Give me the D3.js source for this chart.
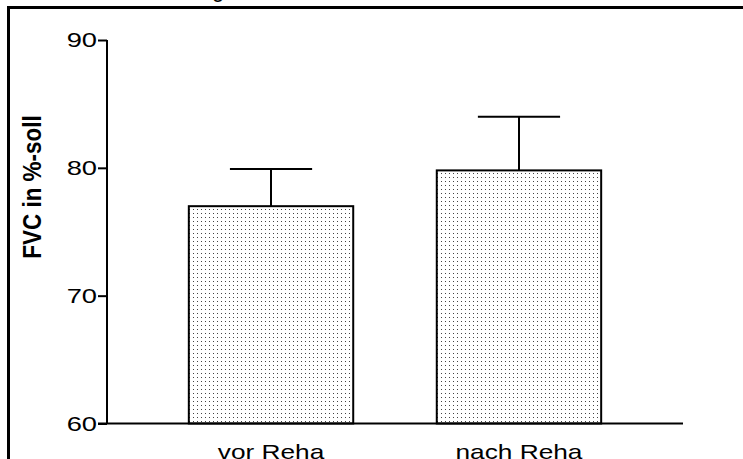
<!DOCTYPE html>
<html>
<head>
<meta charset="utf-8">
<script src="https://cdn.jsdelivr.net/npm/d3@7"></script>
<style>
  body { margin: 0; background: #fff; }
  svg { display: block; font-family: Arial, "Liberation Sans", sans-serif; }
</style>
</head>
<body>
<svg width="743" height="459"></svg>
<script>
var categories = ["vor Reha", "nach Reha"];
var means = [77.0, 79.8];
var errTop = [79.9, 84.0];
var yTicks = [60, 70, 80, 90];

var svg = d3.select("svg");

// dotted fill like the original print
var defs = svg.append("defs");
var pat = defs.append("pattern")
    .attr("id", "dots")
    .attr("patternUnits", "userSpaceOnUse")
    .attr("width", 4).attr("height", 4);
pat.append("rect").attr("width", 4).attr("height", 4).attr("fill", "#fff");
pat.append("rect").attr("x", 1).attr("y", 1).attr("width", 1).attr("height", 1).attr("fill", "#444");

// frame around the figure (cut off right / bottom)
svg.append("path")
    .attr("d", "M8.5,470 V7.5 H760")
    .attr("fill", "none")
    .attr("stroke", "#000")
    .attr("stroke-width", 3);

// caption above, mostly outside the picture
var caption = [{t: "g", x: 212}, {t: ",", x: 399}, {t: ",", x: 544}];
svg.append("g").selectAll("text")
  .data(caption)
  .enter().append("text")
    .attr("x", function(d) { return d.x; })
    .attr("y", -3)
    .attr("font-family", "Liberation Sans, Arial, sans-serif")
    .attr("font-size", 22)
    .text(function(d) { return d.t; });

var plotL = 107, plotR = 683, plotT = 40, plotB = 423.5;

var x = d3.scaleBand().domain(categories).range([plotL, plotR]).paddingInner(0.337).paddingOuter(0.33);
var y = d3.scaleLinear().domain([60, 90]).range([plotB, plotT]);

// the original print is a bit wider than tall, stretch the labels
var stretch = function (sel, k) {
  sel.each(function() {
    var w = this.getComputedTextLength();
    d3.select(this).attr("textLength", w * k).attr("lengthAdjust", "spacingAndGlyphs");
  });
};

// bars
svg.append("g").selectAll("rect")
  .data(categories)
  .enter().append("rect")
    .attr("x", function(d) { return x(d); })
    .attr("y", function(d, i) { return y(means[i]); })
    .attr("width", x.bandwidth())
    .attr("height", function(d, i) { return y(60) - y(means[i]); })
    .attr("fill", "url(#dots)")
    .attr("stroke", "#000")
    .attr("stroke-width", 2);

// error bars (upper only)
var eb = svg.append("g").attr("stroke", "#000").attr("stroke-width", 2);
categories.forEach(function(c, i) {
  var cx = x(c) + x.bandwidth() / 2;
  eb.append("line")
    .attr("x1", cx).attr("x2", cx)
    .attr("y1", y(means[i])).attr("y2", y(errTop[i]));
  eb.append("line")
    .attr("x1", cx - x.bandwidth() / 4).attr("x2", cx + x.bandwidth() / 4)
    .attr("y1", y(errTop[i])).attr("y2", y(errTop[i]));
});

// y axis
var yAxis = svg.append("g")
    .attr("transform", "translate(" + plotL + ",0)")
    .call(d3.axisLeft(y).tickValues(yTicks).tickSize(9).tickPadding(1));
yAxis.select(".domain").attr("stroke-width", 2).attr("d", "M0," + plotT + "V" + plotB);
yAxis.selectAll(".tick line").attr("stroke-width", 2);
yAxis.selectAll("text").attr("font-size", 21).attr("font-family", "Arial, Liberation Sans, sans-serif").attr("fill", "#000");
stretch(yAxis.selectAll("text"), 1.3);

// x axis
var xAxis = svg.append("g")
    .attr("transform", "translate(0," + plotB + ")")
    .call(d3.axisBottom(x).tickSize(0).tickPadding(21));
xAxis.select(".domain").attr("stroke-width", 2).attr("d", "M" + (plotL - 9) + ",0H" + plotR);
xAxis.selectAll("text").attr("font-size", 21).attr("font-family", "Arial, Liberation Sans, sans-serif").attr("fill", "#000");
stretch(xAxis.selectAll("text"), 1.25);

// y title
svg.append("text")
    .attr("transform", "translate(41,187) scale(1.12,1) rotate(-90)")
    .attr("text-anchor", "middle")
    .attr("font-size", 22.5)
    .attr("font-weight", "bold")
    .text("FVC in %-soll");
</script>
</body>
</html>
